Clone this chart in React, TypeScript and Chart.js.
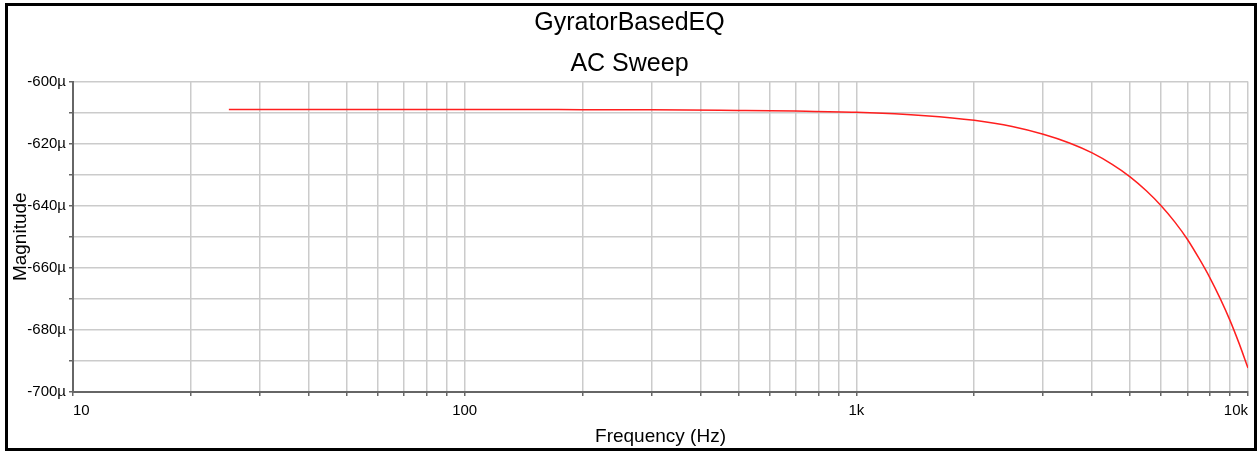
import React, { useEffect, useRef } from 'react';
import { Chart, registerables } from 'chart.js';

Chart.register(...registerables);

// ---- data ----
const freqs = [25, 30, 40, 50, 70, 100, 150, 200, 300, 500, 700, 1000, 1500, 2000, 2500, 3000, 3500, 4000, 4500, 5000, 5500, 6000, 6500, 7000, 7500, 8000, 8500, 9000, 9500, 10000];
const magnitudes = [-609.0, -609.0, -609.0, -609.0, -609.0, -609.0, -609.0, -609.1, -609.1, -609.3, -609.5, -609.9, -611.0, -612.5, -614.5, -617.0, -619.8, -623.0, -626.7, -630.7, -635.2, -640.0, -645.2, -650.8, -657.0, -663.3, -670.0, -677.0, -684.5, -692.3];

const xTickValues = [10, 20, 30, 40, 50, 60, 70, 80, 90, 100, 200, 300, 400, 500, 600, 700, 800, 900, 1000, 2000, 3000, 4000, 5000, 6000, 7000, 8000, 9000, 10000];
const xTickLabels: Record<number, string> = { 10: '10', 100: '100', 1000: '1k', 10000: '10k' };
const yTickValues = [-700, -690, -680, -670, -660, -650, -640, -630, -620, -610, -600];
const yLabelledTicks = [-700, -680, -660, -640, -620, -600];

const chartTitle = 'GyratorBasedEQ';
const chartSubtitle = 'AC Sweep';
const xTitle = 'Frequency (Hz)';
const yTitle = 'Magnitude';

const FAMILY = '"Liberation Sans", Arial, sans-serif';

export default function App() {
  const ref = useRef<HTMLCanvasElement>(null);

  useEffect(() => {
    const chart = new Chart(ref.current as HTMLCanvasElement, {
      type: 'line',
      data: {
        datasets: [
          {
            data: freqs.map((f, i) => ({ x: f, y: magnitudes[i] })),
            borderColor: '#ff1f1f',
            borderWidth: 1.5,
            pointRadius: 0,
            cubicInterpolationMode: 'monotone',
            fill: false,
          },
        ],
      },
      options: {
        animation: false,
        responsive: false,
        maintainAspectRatio: false,
        layout: { padding: { left: 0, right: 3, top: 0, bottom: 0 } },
        plugins: {
          legend: { display: false },
          tooltip: { enabled: false },
          title: {
            display: true,
            text: chartTitle,
            color: '#000',
            font: { family: FAMILY, size: 25, weight: 'normal' },
            padding: { top: 2, bottom: 0 },
          },
          subtitle: {
            display: true,
            text: chartSubtitle,
            color: '#000',
            font: { family: FAMILY, size: 25, weight: 'normal' },
            padding: { top: 11.5, bottom: 2 },
          },
        },
        scales: {
          x: {
            type: 'logarithmic',
            min: 10,
            max: 10000,
            afterBuildTicks: (s: any) => {
              s.ticks = xTickValues.map((v) => ({ value: v }));
            },
            afterFit: (s: any) => {
              s.height = 56;
            },
            ticks: {
              autoSkip: false,
              maxRotation: 0,
              align: 'inner',
              padding: 6,
              color: '#000',
              font: { family: FAMILY, size: 15 },
              callback: (v: any) => xTickLabels[Number(v)] ?? '',
            },
            grid: { color: '#cbcbcb', lineWidth: 1.5, tickLength: 4, tickColor: '#666' },
            border: { color: '#666', width: 2 },
            title: {
              display: true,
              text: xTitle,
              color: '#000',
              font: { family: FAMILY, size: 19 },
              padding: { top: 0, bottom: 0 },
            },
          },
          y: {
            type: 'linear',
            min: -700,
            max: -600,
            afterBuildTicks: (s: any) => {
              s.ticks = yTickValues.map((v) => ({ value: v }));
            },
            afterFit: (s: any) => {
              s.width = 65;
            },
            ticks: {
              autoSkip: false,
              padding: 3,
              color: '#000',
              font: { family: FAMILY, size: 15 },
              callback: (v: any) => (yLabelledTicks.includes(Number(v)) ? `${v}µ` : ''),
            },
            grid: { color: '#cbcbcb', lineWidth: 1.5, tickLength: 4, tickColor: '#666' },
            border: { color: '#666', width: 2 },
            title: {
              display: true,
              text: yTitle,
              color: '#000',
              font: { family: FAMILY, size: 19 },
              padding: { top: 1, bottom: 0 },
            },
          },
        },
      } as any,
    });
    return () => chart.destroy();
  }, []);

  return (
    <div
      style={{
        position: 'absolute',
        left: 5,
        top: 3,
        width: 1246,
        height: 442,
        border: '3px solid #000',
        background: '#fff',
      }}
    >
      <canvas ref={ref} width={1246} height={442} style={{ display: 'block' }} />
    </div>
  );
}
